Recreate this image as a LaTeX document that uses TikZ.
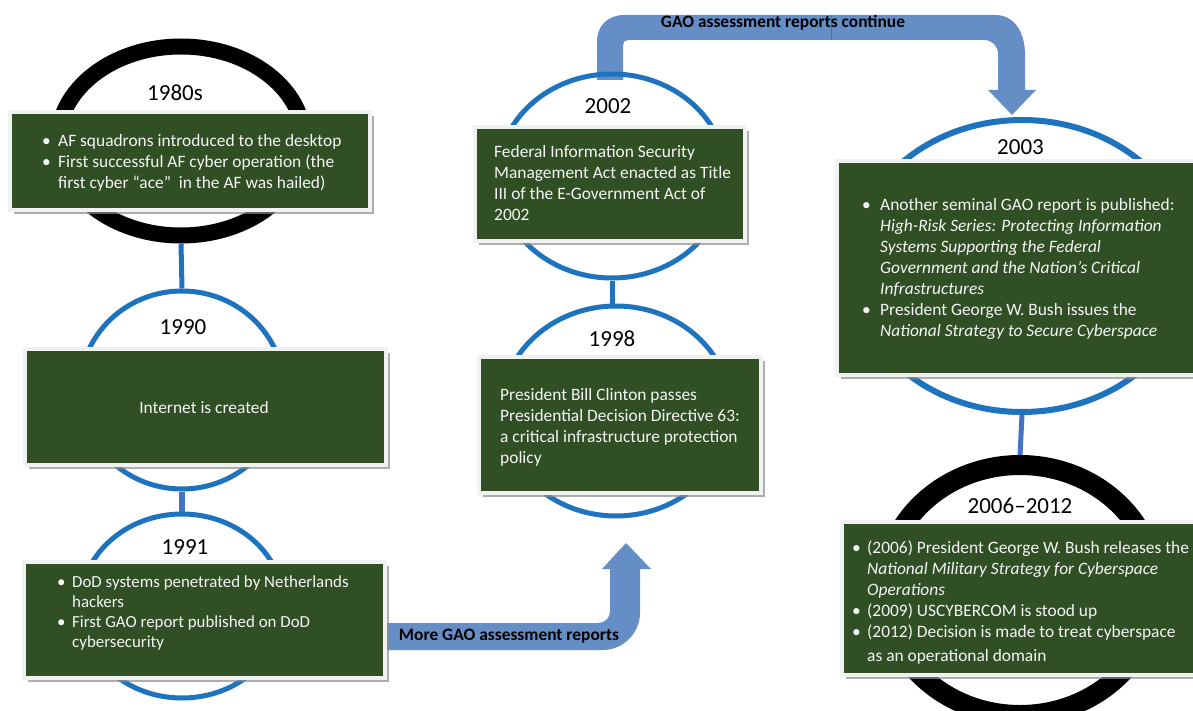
\documentclass[tikz,border=0pt]{standalone}
\usepackage{fontspec}
\setmainfont{Carlito}
\usetikzlibrary{shapes.geometric,shadows}
\definecolor{boxgreen}{RGB}{49,79,37}
\definecolor{boxedge}{RGB}{240,242,240}
\definecolor{ringblue}{RGB}{30,115,190}
\definecolor{connblue}{RGB}{68,114,196}
\definecolor{arrowblue}{RGB}{101,142,199}
\definecolor{boxtext}{RGB}{245,245,245}
\newcommand\mybul{\makebox[16pt][l]{\textbullet}}
\newcommand\myind{\hspace*{16pt}}
\tikzset{
  ringbase/.style={draw, ellipse, inner sep=0pt},
  bluering/.style={ringbase, draw=ringblue, line width=5pt},
  blackring/.style={ringbase, draw=black},
  evbox/.style={rectangle, fill=boxgreen, draw=boxedge, line width=4pt, inner sep=0pt,
    drop shadow={shadow xshift=4pt, shadow yshift=-4pt, fill=black!45, opacity=0.7}},
  yearlbl/.style={font=\fontsize{23}{27}\selectfont, text=black, inner sep=0pt},
  txt/.style={anchor=base west, inner sep=0pt, text=boxtext, font=\fontsize{17.4}{21}\selectfont},
  conn/.style={line width=5pt},
  blockarrow/.style={fill=arrowblue},
  arrowlbl/.style={font=\bfseries\fontsize{17.4}{20}\selectfont, text=black, inner sep=0pt}
}
\begin{document}
\begin{tikzpicture}[x=1pt,y=-1pt]
\clip (0,0) rectangle (1193,711);
\fill[white] (0,0) rectangle (1193,711);

% block arrows
\fill[blockarrow] (597,80) -- (597,41) .. controls (597,26) and (608,15) .. (624,15)
  -- (995,15) .. controls (1013,15) and (1025,30) .. (1025,55) -- (1025,90) -- (1036,90)
  -- (1012,115) -- (988,90) -- (998,90) -- (998,54) .. controls (998,46) and (992,40) .. (984,40)
  -- (628,40) .. controls (625,40) and (623,42) .. (623,45) -- (623,80) -- cycle;
\draw[connblue, line width=0.8pt] (831,15) -- (831,40);
\fill[blockarrow] (380,623) -- (598,623) .. controls (605,623) and (610,618) .. (610,611)
  -- (610,569) -- (602,569) -- (626,543) -- (651,569) -- (640,569) -- (640,613)
  .. controls (640,633) and (623,650) .. (603,650) -- (380,650) -- cycle;

% rings
\node[blackring, line width=16pt, minimum width=246pt, minimum height=189pt] (r1980) at (181,141) {};
\node[bluering, minimum width=204pt, minimum height=198pt] (r1990) at (182,390) {};
\node[bluering, minimum width=204pt, minimum height=184pt] (r1991) at (182,606) {};
\node[bluering, minimum width=228pt, minimum height=204pt] (r2002) at (612,176) {};
\node[bluering, minimum width=230pt, minimum height=210pt] (r1998) at (616,411) {};
\node[bluering, line width=6pt, minimum width=340pt, minimum height=292pt] (r2003) at (1022,266) {};
\node[blackring, line width=20pt, minimum width=272pt, minimum height=250pt] (r2006) at (1020,590) {};

% connectors
\draw[conn, ringblue] (r1980.south) -- (r1990.north);
\draw[conn, connblue, line width=6pt] (r1990.south) -- (r1991.north);
\draw[conn, ringblue] (r2002.south) -- (r2002.south |- r1998.north);
\draw[conn, connblue] (r2003.south) -- (r2006.north);

% boxes
\node[evbox, minimum width=360pt, minimum height=98pt] (b1980) at (190,161) {};
\node[evbox, minimum width=361pt, minimum height=116pt] (b1990) at (205.5,407) {};
\node[evbox, minimum width=361pt, minimum height=116pt] (b1991) at (204.5,620) {};
\node[evbox, minimum width=270pt, minimum height=114pt] (b2002) at (610,184) {};
\node[evbox, minimum width=282pt, minimum height=136pt] (b1998) at (620,425) {};
\node[evbox, minimum width=373pt, minimum height=214pt] (b2003) at (1023.5,268) {};
\node[evbox, minimum width=368pt, minimum height=153pt] (b2006) at (1026,598.5) {};

% years
\node[yearlbl] (y1980) at (175,93) {1980s};
\node[yearlbl] (y1990) at (183,327) {1990};
\node[yearlbl] (y1991) at (185,547) {1991};
\node[yearlbl] (y2002) at (608,106) {2002};
\node[yearlbl] (y1998) at (612,339) {1998};
\node[yearlbl] (y2003) at (1020.5,147) {2003};
\node[yearlbl] (y2006) at (1020,506) {2006–2012};

% box texts
\node[txt] (t1980) at (42,147) {\parbox[t]{400pt}{\raggedright
\mybul AF squadrons introduced to the desktop\\
\mybul First successful AF cyber operation (the\\
\myind first cyber “ace”~ in the AF was hailed)}};

\node[anchor=center, inner sep=0pt, text=boxtext, font=\fontsize{17.4}{21}\selectfont] (t1990) at (204,408) {Internet is created};

\node[txt, font=\fontsize{16.9}{20.3}\selectfont] (t1991) at (57,587) {\parbox[t]{400pt}{\raggedright
\makebox[15pt][l]{\textbullet}DoD systems penetrated by Netherlands\\
\hspace*{15pt}hackers\\
\makebox[15pt][l]{\textbullet}First GAO report published on DoD\\
\hspace*{15pt}cybersecurity}};

\node[txt] (t2002) at (494,158) {\parbox[t]{400pt}{\raggedright
Federal Information Security\\
Management Act enacted as Title\\
III of the E-Government Act of\\
2002}};

\node[txt] (t1998) at (500,400) {\parbox[t]{400pt}{\raggedright
President Bill Clinton passes\\
Presidential Decision Directive 63:\\
a critical infrastructure protection\\
policy}};

\node[txt] (t2003) at (862,211) {\parbox[t]{400pt}{\raggedright
\makebox[18pt][l]{\textbullet}Another seminal GAO report is published:\\
\hspace*{18pt}\textit{High-Risk Series: Protecting Information}\\
\hspace*{18pt}\textit{Systems Supporting the Federal}\\
\hspace*{18pt}\textit{Government and the Nation’s Critical}\\
\hspace*{18pt}\textit{Infrastructures}\\
\makebox[18pt][l]{\textbullet}President George W. Bush issues the\\
\hspace*{18pt}\textit{National Strategy to Secure Cyberspace}}};

\node[txt] (t2006) at (852,553) {\parbox[t]{400pt}{\raggedright
\makebox[15pt][l]{\textbullet}(2006) President George W. Bush releases the\\
\hspace*{15pt}\textit{National Military Strategy for Cyberspace}\\
\hspace*{15pt}\textit{Operations}\\
\makebox[15pt][l]{\textbullet}(2009) USCYBERCOM is stood up\\
\makebox[15pt][l]{\textbullet}(2012) Decision is made to treat cyberspace\\[3pt]
\hspace*{15pt}as an operational domain}};

% arrow labels
\node[arrowlbl] (lcont) at (783,23) {GAO assessment reports continue};
\node[arrowlbl] (lmore) at (509,636) {More GAO assessment reports};
\end{tikzpicture}
\end{document}
